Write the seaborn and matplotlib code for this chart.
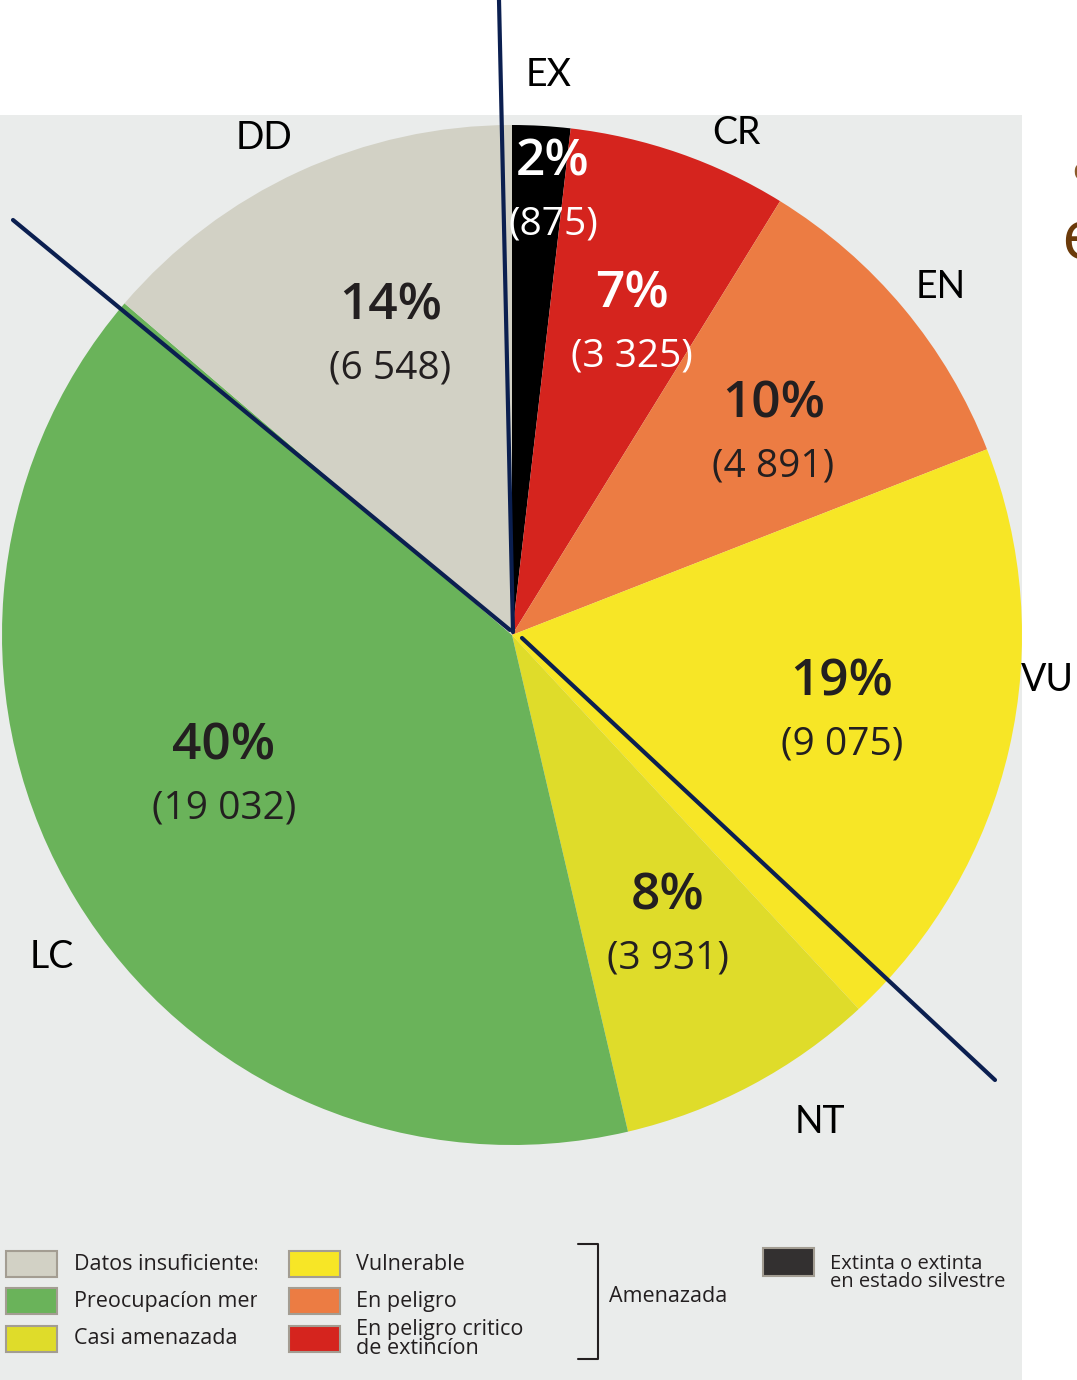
import matplotlib
matplotlib.use("Agg")
import matplotlib.pyplot as plt
import numpy as np
import seaborn as sns
from matplotlib.patches import Rectangle
from matplotlib.transforms import Bbox, TransformedBbox

sns.set_theme(style="white")
plt.rcParams['font.family'] = ['Open Sans', 'DejaVu Sans']

# data
codes = ['EX', 'CR', 'EN', 'VU', 'NT', 'LC', 'DD']
counts = [875, 3325, 4891, 9075, 3931, 19032, 6548]
pct_labels = ['2%', '7%', '10%', '19%', '8%', '40%', '14%']
count_labels = ['(875)', '(3 325)', '(4 891)', '(9 075)', '(3 931)', '(19 032)', '(6 548)']
colors = ['#000000', '#d5241e', '#ec7c43', '#f7e626', '#dfdc2a', '#6ab35a', '#d2d1c5']

legend_col1 = ['Datos insuficientes', 'Preocupacíon menor', 'Casi amenazada']
legend_col1_colors = ['#d2d1c5', '#6ab35a', '#dfdc2a']
legend_col2 = ['Vulnerable', 'En peligro', 'En peligro critico\nde extincíon']
legend_col2_colors = ['#f7e626', '#ec7c43', '#d5241e']

W, H = 1077, 1380
fig = plt.figure(figsize=(W / 100, H / 100), dpi=100)
fig.patch.set_facecolor('white')

# background panel
bg = fig.add_axes([0, 0, 1, 1], zorder=0)
bg.set_xlim(0, W)
bg.set_ylim(H, 0)
bg.axis('off')
bg.add_patch(Rectangle((0, 115), 1022, H - 115, color='#eaeceb', lw=0))

# pie
cx, cy, R = 512, 635, 510
ax = fig.add_axes([(cx - R) / W, (H - cy - R) / H, 2 * R / W, 2 * R / H], zorder=1)
ax.patch.set_alpha(0)
wedges, _ = ax.pie(counts, colors=colors, startangle=90, counterclock=False,
                   radius=1, wedgeprops=dict(linewidth=0))
ax.set_xlim(-1, 1)
ax.set_ylim(-1, 1)
ax.axis('off')

# inside labels (two lines around a centre point)
inner_r = [0.87, 0.65, 0.645, 0.665, 0.65, 0.63, 0.63]
inner_shift = [-2, -2, -2.5, -0.5, 0, -5, -2.5]
txt_dark = '#231f20'
half_gap = 31 / R
for w, p, c, r, sh, code in zip(wedges, pct_labels, count_labels, inner_r, inner_shift, codes):
    ang = np.deg2rad((w.theta1 + w.theta2) / 2 + sh)
    x, y = r * np.cos(ang), r * np.sin(ang)
    col = 'white' if code in ('EX', 'CR') else txt_dark
    ax.text(x, y + half_gap, p, ha='center', va='center', fontsize=37, fontweight='semibold',
            color=col)
    ax.text(x, y - half_gap, c, ha='center', va='center', fontsize=28, color=col)

# overlay in pixel coordinates
ov = fig.add_axes([0, 0, 1, 1], zorder=2)
ov.set_xlim(0, W)
ov.set_ylim(H, 0)
ov.axis('off')
ov.patch.set_alpha(0)

# outer category labels
outer_pos = [(549, 75), (736, 133), (941, 287), (1047, 680), (820, 1122), (52, 957), (264, 138)]
for code, (px, py) in zip(codes, outer_pos):
    ov.text(px, py, code, ha='center', va='center', fontsize=27, color='black',
            family=['Lato', 'DejaVu Sans'])

# annotation lines
navy = '#0b1f50'
ov.plot([499, 513], [0, 632], color=navy, lw=3)
ov.plot([13, 510], [220, 630], color=navy, lw=3)
ov.plot([522, 995], [638, 1080], color=navy, lw=3)

# partial text on right edge (cut off in the original)
ov.text(1061, 242, 'e', ha='left', va='center', fontsize=50, color='#6b3a0a')
ov.text(1072, 172, 'c', ha='left', va='center', fontsize=22, color='#8a5a2a')

# legend
rows_y = [1264, 1301, 1339]
clip = TransformedBbox(Bbox([[0, 0], [257, H]]), ov.transData)
for lab, col, y in zip(legend_col1, legend_col1_colors, rows_y):
    ov.add_patch(Rectangle((6, y - 13), 51, 26, facecolor=col, edgecolor='#a39d92', lw=1.5))
    t = ov.text(74, y, lab, ha='left', va='center', fontsize=15.5, color=txt_dark)
    t.set_clip_box(clip)
    t.set_clip_on(True)
for lab, col, y in zip(legend_col2, legend_col2_colors, rows_y):
    ov.add_patch(Rectangle((289, y - 13), 51, 26, facecolor=col, edgecolor='#a39d92', lw=1.5))
    ov.text(356, y, lab, ha='left', va='center', fontsize=15.5, color=txt_dark,
            linespacing=0.85)

# bracket
ov.plot([578, 598, 598, 578], [1244, 1244, 1359, 1359], color='#231f20', lw=1.5)
ov.text(609, 1297, 'Amenazada', ha='left', va='center', fontsize=15.5, color=txt_dark)

ov.add_patch(Rectangle((763, 1248), 51, 28, facecolor='#333030', edgecolor='#a39d92', lw=1.5))
ov.text(830, 1273, 'Extinta o extinta\nen estado silvestre', ha='left', va='center', fontsize=14.5,
        color=txt_dark, linespacing=0.85)

fig.savefig('out.png', dpi=100)
